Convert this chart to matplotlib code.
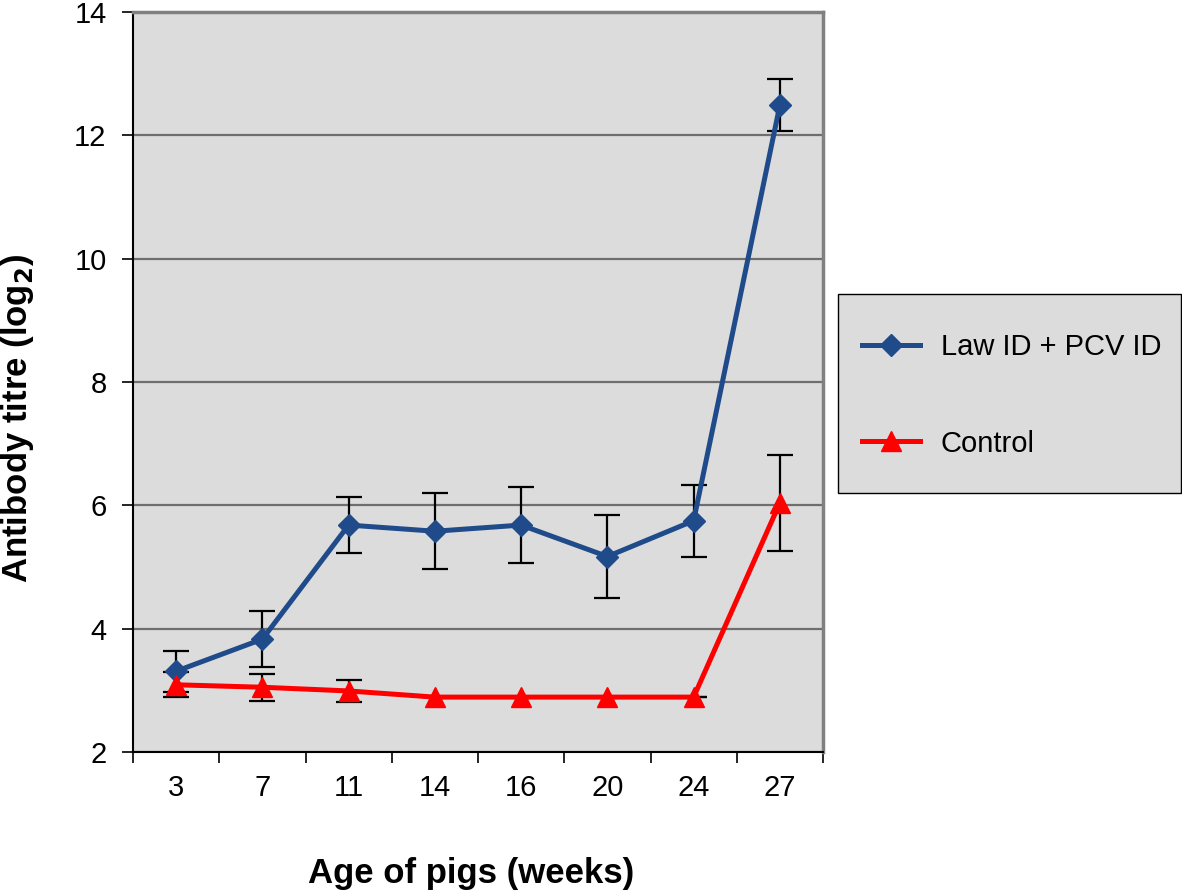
import matplotlib
matplotlib.use("Agg")
import matplotlib.pyplot as plt
from matplotlib.patches import Rectangle
import numpy as np

plt.rcParams['font.family'] = ['Liberation Sans', 'DejaVu Sans']

weeks = ["3", "7", "11", "14", "16", "20", "24", "27"]
law_mean = [3.31, 3.83, 5.68, 5.58, 5.68, 5.17, 5.75, 12.49]
law_err = [0.33, 0.45, 0.45, 0.62, 0.62, 0.67, 0.58, 0.42]
ctrl_mean = [3.09, 3.05, 2.99, 2.89, 2.89, 2.89, 2.89, 6.04]
ctrl_err = [0.20, 0.22, 0.18, 0.0, 0.0, 0.0, 0.0, 0.78]

blue = '#1f4b8a'
red = '#ff0000'
W, H = 1182, 892

fig = plt.figure(figsize=(W/100, H/100), dpi=100)
ax = fig.add_axes([133/W, 1-752/H, (823-133)/W, (752-12)/H])
ax.set_facecolor('#dcdcdc')

x = np.arange(len(weeks))

ax.errorbar(x, law_mean, yerr=law_err, fmt='none', ecolor='black',
            elinewidth=1.6, capsize=9.5, capthick=1.6, zorder=2)
ax.errorbar(x, ctrl_mean, yerr=ctrl_err, fmt='none', ecolor='black',
            elinewidth=1.6, capsize=9.5, capthick=1.6, zorder=2)
ax.plot(x, law_mean, color=blue, lw=3.6, marker='D', markersize=11.5,
        label='Law ID + PCV ID', zorder=3)
ax.plot(x, ctrl_mean, color=red, lw=3.6, marker='^', markersize=14,
        label='Control', zorder=4)

ax.set_xlim(-0.5, len(weeks) - 0.5)
ax.set_ylim(2, 14)
ax.set_yticks(np.arange(2, 15, 2))
ax.set_xticks(x)
ax.set_xticklabels(weeks)
ax.set_xticks(np.arange(-0.5, len(weeks), 1), minor=True)
ax.tick_params(axis='x', which='major', length=0, pad=16, labelsize=21)
ax.tick_params(axis='x', which='minor', length=8, width=1.2, color='black')
ax.tick_params(axis='y', length=8, width=1.2, labelsize=21, pad=11)

ax.yaxis.grid(True, color='#6e6e6e', lw=1.6, zorder=1)
ax.set_axisbelow(True)

for s in ['left', 'bottom']:
    ax.spines[s].set_color('black')
    ax.spines[s].set_linewidth(1.5)
for s in ['top', 'right']:
    ax.spines[s].set_color('#808080')
    ax.spines[s].set_linewidth(2.5)

fig.text(471/W, 1-873/H, 'Age of pigs (weeks)', fontsize=25, fontweight='bold',
         ha='center', va='center')
fig.text(18/W, 1-418/H, 'Antibody titre (log$_\\mathbf{2}$)', fontsize=25,
         fontweight='bold', ha='center', va='center', rotation=90)

# legend frame
fig.patches.append(Rectangle((838/W, 1-493/H), (1181-838)/W, (493-294)/H,
                             transform=fig.transFigure, facecolor='#dcdcdc',
                             edgecolor='black', lw=1.0, zorder=0))
leg = fig.legend(loc='upper left', bbox_to_anchor=(862/W, 1-333/H),
                 fontsize=21, frameon=False, labelspacing=2.35, handlelength=2.0,
                 handletextpad=0.7, borderpad=0, borderaxespad=0)

fig.savefig('out.png', dpi=100)
